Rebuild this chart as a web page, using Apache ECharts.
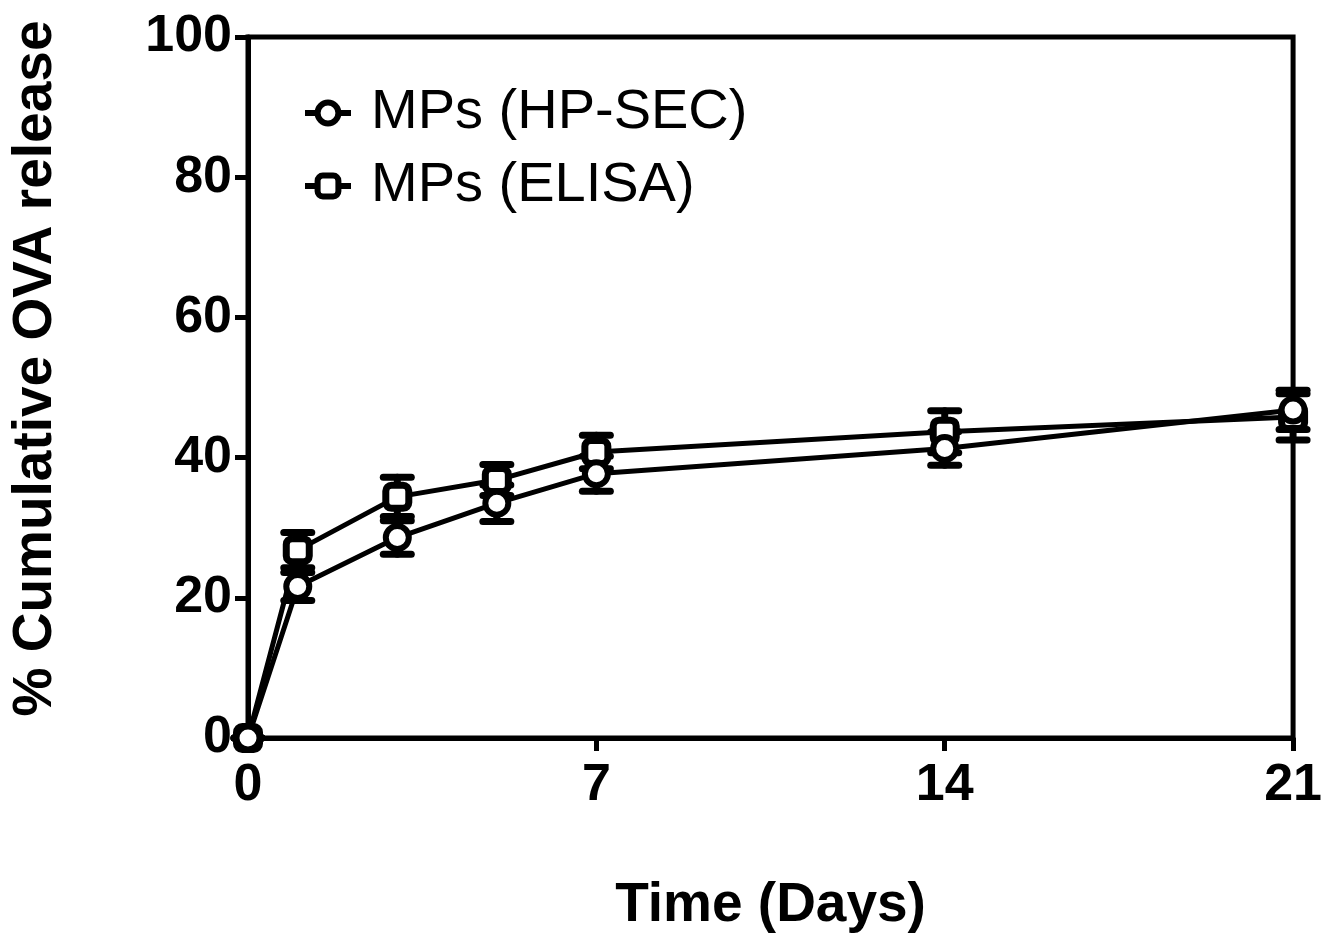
<!DOCTYPE html>
<html>
<head>
<meta charset="utf-8">
<script src="https://cdn.jsdelivr.net/npm/echarts@6/dist/echarts.min.js"></script>
<style>
  html, body { margin: 0; padding: 0; background: #fff; }
  #main { width: 1325px; height: 939px; }
</style>
</head>
<body>
<div id="main"></div>
<script>
// sampling days
var days = [0, 1, 3, 5, 7, 14, 21];
// HP-SEC
var hpsecMean = [0, 21.6, 28.6, 33.5, 37.7, 41.3, 46.8];
var hpsecErr = [0, 2.0, 2.4, 2.6, 2.5, 2.4, 2.8];
// ELISA
var elisaMean = [0, 26.8, 34.4, 36.8, 40.8, 43.7, 45.8];
var elisaErr = [0, 2.5, 2.8, 2.2, 2.4, 3.0, 3.3];

var xTicks = [0, 7, 14, 21];
var fontFam = 'Liberation Sans, Arial, Helvetica, sans-serif';

function pairs(xs, ys) {
  var out = [];
  for (var i = 0; i < xs.length; i++) out.push([xs[i], ys[i]]);
  return out;
}
function errRows(xs, ys, es) {
  var out = [];
  for (var i = 0; i < xs.length; i++) out.push([xs[i], ys[i] - es[i], ys[i] + es[i]]);
  return out;
}

// vertical bar with caps
function renderErr(params, api) {
  var lo = api.coord([api.value(0), api.value(1)]);
  var hi = api.coord([api.value(0), api.value(2)]);
  var hw = 14;
  var st = { stroke: '#000', lineWidth: 7, lineCap: 'round' };
  return {
    type: 'group',
    children: [
      { type: 'line', shape: { x1: lo[0], y1: lo[1], x2: hi[0], y2: hi[1] }, style: st },
      { type: 'line', shape: { x1: lo[0] - hw, y1: lo[1], x2: lo[0] + hw, y2: lo[1] }, style: st },
      { type: 'line', shape: { x1: hi[0] - hw, y1: hi[1], x2: hi[0] + hw, y2: hi[1] }, style: st }
    ]
  };
}

var myChart = echarts.init(document.getElementById('main'));
var option = {
  backgroundColor: '#fff',
  animation: false,
  grid: { left: 245, right: 28, top: 37, bottom: 201, show: true, borderColor: '#000', borderWidth: 5 },
  legend: {
    data: ['MPs (HP-SEC)', 'MPs (ELISA)'],
    orient: 'vertical',
    left: 297,
    top: 78,
    itemWidth: 46,
    itemHeight: 26,
    itemGap: 13,
    itemStyle: { color: '#fff', borderColor: '#000', borderWidth: 6 },
    lineStyle: { color: '#000', width: 6 },
    textStyle: { fontFamily: fontFam, fontSize: 56, color: '#000', lineHeight: 60, padding: [0, 0, 0, 15] }
  },
  xAxis: {
    type: 'value',
    min: 0, max: 21, interval: 7,
    name: 'Time (Days)',
    nameLocation: 'middle',
    nameGap: 140,
    nameTextStyle: { fontFamily: fontFam, fontSize: 55, fontWeight: 'bold', color: '#000' },
    axisLine: { lineStyle: { color: '#000', width: 5 } },
    axisTick: { inside: false, length: 13, lineStyle: { color: '#000', width: 5 } },
    axisLabel: { margin: 22, fontFamily: fontFam, fontSize: 52, fontWeight: 'bold', color: '#000',
      formatter: function (v) { return xTicks.indexOf(v) >= 0 ? String(v) : ''; } },
    splitLine: { show: false }
  },
  yAxis: {
    type: 'value',
    min: 0, max: 100, interval: 20,
    name: '% Cumulative OVA release',
    nameLocation: 'middle',
    nameGap: 185,
    nameRotate: 90,
    nameTextStyle: { fontFamily: fontFam, fontSize: 55, fontWeight: 'bold', color: '#000', padding: [0, 0, 0, 38] },
    axisLine: { lineStyle: { color: '#000', width: 5 } },
    axisTick: { inside: false, length: 13, lineStyle: { color: '#000', width: 5 } },
    axisLabel: { margin: 16, fontFamily: fontFam, fontSize: 52, fontWeight: 'bold', color: '#000' },
    splitLine: { show: false }
  },
  series: [
    {
      name: 'errElisa', type: 'custom', z: 1, renderItem: renderErr,
      encode: { x: 0, y: [1, 2] }, data: errRows(days, elisaMean, elisaErr)
    },
    {
      name: 'errHpsec', type: 'custom', z: 1, renderItem: renderErr,
      encode: { x: 0, y: [1, 2] }, data: errRows(days, hpsecMean, hpsecErr)
    },
    {
      name: 'MPs (ELISA)', type: 'line', z: 2,
      data: pairs(days, elisaMean),
      symbol: 'roundRect', symbolSize: 23,
      lineStyle: { color: '#000', width: 5 },
      itemStyle: { color: '#fff', borderColor: '#000', borderWidth: 7 }
    },
    {
      name: 'MPs (HP-SEC)', type: 'line', z: 3,
      data: pairs(days, hpsecMean),
      symbol: 'circle', symbolSize: 23,
      lineStyle: { color: '#000', width: 5 },
      itemStyle: { color: '#fff', borderColor: '#000', borderWidth: 6 }
    }
  ]
};
myChart.setOption(option);
</script>
</body>
</html>
